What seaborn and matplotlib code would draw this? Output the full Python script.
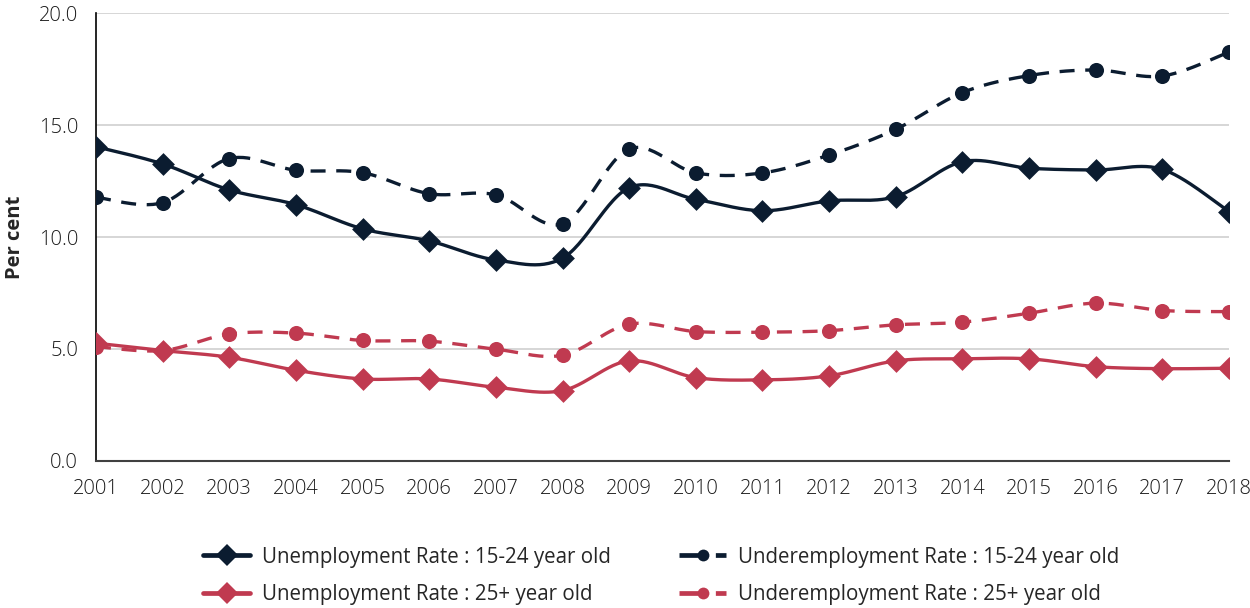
import numpy as np
import pandas as pd
import matplotlib
matplotlib.use("Agg")
import matplotlib.pyplot as plt
from matplotlib.lines import Line2D
import seaborn as sns

years = list(range(2001, 2019))
unemp_15_24 = [14.04, 13.27, 12.11, 11.45, 10.37, 9.83, 8.98, 9.06, 12.21, 11.69,
               11.18, 11.62, 11.81, 13.37, 13.08, 13.00, 13.03, 11.14]
underemp_15_24 = [11.78, 11.54, 13.51, 12.99, 12.88, 11.94, 11.89, 10.60, 13.94, 12.87,
                  12.87, 13.67, 14.82, 16.46, 17.22, 17.47, 17.20, 18.27]
unemp_25 = [5.26, 4.93, 4.63, 4.05, 3.66, 3.66, 3.29, 3.14, 4.47, 3.72,
            3.62, 3.80, 4.47, 4.56, 4.56, 4.21, 4.12, 4.14]
underemp_25 = [5.11, 4.93, 5.67, 5.71, 5.38, 5.35, 4.99, 4.72, 6.11, 5.78,
               5.75, 5.82, 6.08, 6.20, 6.60, 7.05, 6.72, 6.67]

labels = ["Unemployment Rate : 15-24 year old",
          "Underemployment Rate : 15-24 year old",
          "Unemployment Rate : 25+ year old",
          "Underemployment Rate : 25+ year old"]
y_ticks = [0, 5, 10, 15, 20]

NAVY = "#0b1c30"
RED = "#c03a50"


def smooth(x, y, n=30):
    """Catmull-Rom style Bezier smoothing through every point."""
    x = np.asarray(x, float)
    y = np.asarray(y, float)
    px = np.concatenate([[x[0]], x, [x[-1]]])
    py = np.concatenate([[y[0]], y, [y[-1]]])
    xs, ys = [], []
    t = np.linspace(0, 1, n)
    for i in range(1, len(px) - 2):
        p0x, p1x, p2x, p3x = px[i - 1], px[i], px[i + 1], px[i + 2]
        p0y, p1y, p2y, p3y = py[i - 1], py[i], py[i + 1], py[i + 2]
        c1x, c1y = p1x + (p2x - p0x) / 6, p1y + (p2y - p0y) / 6
        c2x, c2y = p2x - (p3x - p1x) / 6, p2y - (p3y - p1y) / 6
        bx = (1 - t) ** 3 * p1x + 3 * (1 - t) ** 2 * t * c1x + 3 * (1 - t) * t ** 2 * c2x + t ** 3 * p2x
        by = (1 - t) ** 3 * p1y + 3 * (1 - t) ** 2 * t * c1y + 3 * (1 - t) * t ** 2 * c2y + t ** 3 * p2y
        xs.append(bx if i == 1 else bx[1:])
        ys.append(by if i == 1 else by[1:])
    return np.concatenate(xs), np.concatenate(ys)


DASH = (0, (4.5, 3.2))
series = [
    (labels[0], unemp_15_24, NAVY, "-", "D"),
    (labels[1], underemp_15_24, NAVY, DASH, "o"),
    (labels[2], unemp_25, RED, "-", "D"),
    (labels[3], underemp_25, RED, DASH, "o"),
]

sns.set_theme(style="white")
plt.rcParams["font.family"] = ["Open Sans", "DejaVu Sans"]

fig = plt.figure(figsize=(12.5, 6.08), dpi=100)
ax = fig.add_axes([0.0768, 0.242, 0.9064, 0.736])

handles = {}
for name, vals, color, ls, mk in series:
    sx, sy = smooth(years, vals)
    curve = pd.DataFrame({"year": sx, "value": sy})
    sns.lineplot(data=curve, x="year", y="value", ax=ax, color=color,
                 linewidth=2.4, linestyle=ls, legend=False, sort=False,
                 estimator=None)
    pts = pd.DataFrame({"year": years, "value": vals})
    msize = 135 if mk == "D" else 118
    sns.scatterplot(data=pts, x="year", y="value", ax=ax, color=color,
                    marker=mk, s=msize, linewidth=0, legend=False, zorder=5)
    handles[name] = Line2D([], [], color=color, linestyle=ls, linewidth=3.4,
                           marker=mk, markersize=11 if mk == "D" else 8.5,
                           markeredgewidth=0, label=name)

ax.set_xlim(2001, 2018)
ax.set_ylim(0, 20)
ax.set_xticks(years)
ax.set_xticklabels([str(y) for y in years])
ax.set_yticks(y_ticks)
ax.set_yticklabels([f"{v:.1f}" for v in y_ticks])
ax.tick_params(axis="both", labelsize=14.5, colors="#1a1a1a", length=0)
ax.tick_params(axis="x", pad=13)
ax.tick_params(axis="y", pad=13)
for lbl in ax.get_xticklabels() + ax.get_yticklabels():
    lbl.set_fontweight("light")
ax.yaxis.grid(True, color="#d0d0d0", linewidth=1.2)
ax.set_axisbelow(True)
for side in ["top", "right"]:
    ax.spines[side].set_visible(False)
ax.spines["left"].set_color("#000000")
ax.spines["left"].set_linewidth(1.2)
ax.spines["bottom"].set_color("#404040")
ax.spines["bottom"].set_linewidth(1.5)
ax.set_xlabel("")
ax.set_ylabel("Per cent", fontsize=14.5, fontweight="bold")
ax.yaxis.set_label_coords(-0.0625, 0.5)

# two columns filled row-wise: 15-24 series on the first row, 25+ on the second
order = [labels[0], labels[2], labels[1], labels[3]]
fig.legend(handles=[handles[k] for k in order], loc="center",
           bbox_to_anchor=(0.529, 0.053), ncol=2, frameon=False,
           fontsize=14.8, handlelength=2.3, columnspacing=3.3,
           labelspacing=0.8, handletextpad=0.58)

fig.savefig("out.png", dpi=100)
